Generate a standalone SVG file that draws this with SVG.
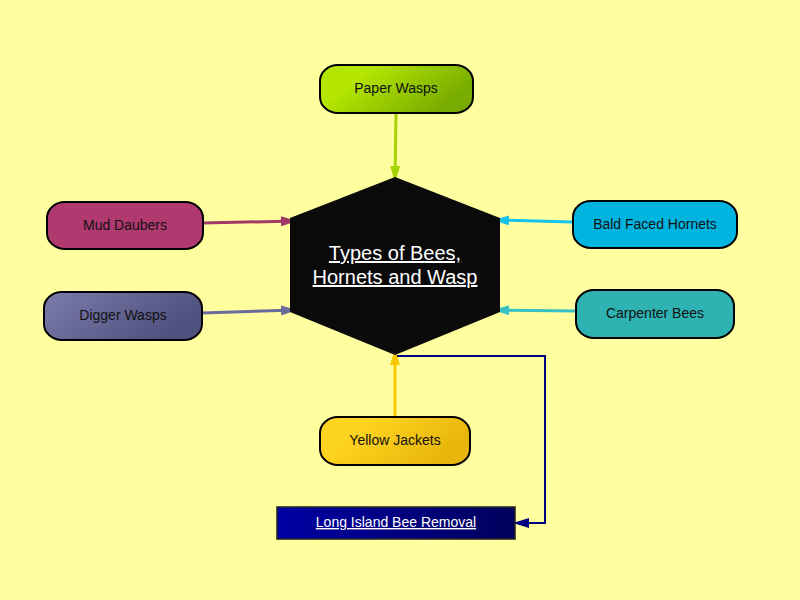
<svg xmlns="http://www.w3.org/2000/svg" width="800" height="600" viewBox="0 0 800 600">
<style>
.node{stroke:#000;stroke-width:2}
.lbl{font-family:"Liberation Sans",Arial,sans-serif;font-size:14px;fill:#111;text-anchor:middle}
.conn{fill:none;stroke-width:3}
</style>
<defs>
<linearGradient id="gPaper" x1="0" y1="0" x2="1" y2="0.4"><stop offset="0.3" stop-color="#b4e600"/><stop offset="1" stop-color="#78ac00"/></linearGradient>
<linearGradient id="gDigger" x1="0" y1="0" x2="1" y2="0.4"><stop offset="0" stop-color="#7c7cac"/><stop offset="1" stop-color="#50507e"/></linearGradient>
<linearGradient id="gYellow" x1="0" y1="0" x2="1" y2="0.4"><stop offset="0.3" stop-color="#fdd420"/><stop offset="1" stop-color="#e8b60a"/></linearGradient>
<linearGradient id="gLink" x1="0" y1="0" x2="1" y2="0"><stop offset="0" stop-color="#0000a4"/><stop offset="1" stop-color="#00005c"/></linearGradient>
<marker id="aPaper" markerWidth="16" markerHeight="10" refX="15" refY="5" orient="auto" markerUnits="userSpaceOnUse"><path d="M0,0L16,5L0,10z" fill="#a6d400"/></marker>
<marker id="aMud" markerWidth="16" markerHeight="10" refX="15" refY="5" orient="auto" markerUnits="userSpaceOnUse"><path d="M0,0L16,5L0,10z" fill="#a03868"/></marker>
<marker id="aDig" markerWidth="16" markerHeight="10" refX="15" refY="5" orient="auto" markerUnits="userSpaceOnUse"><path d="M0,0L16,5L0,10z" fill="#6a6a9c"/></marker>
<marker id="aBald" markerWidth="16" markerHeight="10" refX="15" refY="5" orient="auto" markerUnits="userSpaceOnUse"><path d="M0,0L16,5L0,10z" fill="#18c4ec"/></marker>
<marker id="aCarp" markerWidth="16" markerHeight="10" refX="15" refY="5" orient="auto" markerUnits="userSpaceOnUse"><path d="M0,0L16,5L0,10z" fill="#38c0c4"/></marker>
<marker id="aYel" markerWidth="16" markerHeight="10" refX="15" refY="5" orient="auto" markerUnits="userSpaceOnUse"><path d="M0,0L16,5L0,10z" fill="#f8c800"/></marker>
<marker id="aLink" markerWidth="16" markerHeight="10" refX="15" refY="5" orient="auto" markerUnits="userSpaceOnUse"><path d="M0,0L16,5L0,10z" fill="#000080"/></marker>
</defs>
<rect width="800" height="600" fill="#ffff9f"/>
<g id="connectors">
<path class="conn" d="M396,113 L395,181" stroke="#a6d400" marker-end="url(#aPaper)"/>
<path class="conn" d="M203,223 L296,221" stroke="#a03868" marker-end="url(#aMud)"/>
<path class="conn" d="M202,313 L296,310" stroke="#6a6a9c" marker-end="url(#aDig)"/>
<path class="conn" d="M573,222 L494,220" stroke="#18c4ec" marker-end="url(#aBald)"/>
<path class="conn" d="M576,311 L494,310" stroke="#38c0c4" marker-end="url(#aCarp)"/>
<path class="conn" d="M395,417 L395,350" stroke="#f8c800" marker-end="url(#aYel)"/>
<path d="M397,356 L545,356 L545,523 L514,523" fill="none" stroke="#000080" stroke-width="2" marker-end="url(#aLink)"/>
</g>
<g id="center">
<polygon points="395,177 500,218 500,312 395,355 290,312 290,218" fill="#0a0a0a"/>
<text x="395" y="260" font-family="Liberation Sans,Arial,sans-serif" font-size="20" fill="#fff" text-anchor="middle" text-decoration="underline">Types of Bees, </text>
<text x="395" y="284" font-family="Liberation Sans,Arial,sans-serif" font-size="20" fill="#fff" text-anchor="middle" text-decoration="underline">Hornets and Wasp</text>
</g>
<g id="paper-wasps">
<rect class="node" x="320" y="65" width="153" height="48" rx="18" ry="16" fill="url(#gPaper)"/>
<text class="lbl" x="396" y="93">Paper Wasps</text>
</g>
<g id="mud-daubers">
<rect class="node" x="47" y="202" width="156" height="47" rx="18" ry="16" fill="#b03a70"/>
<text class="lbl" x="125" y="230">Mud Daubers</text>
</g>
<g id="digger-wasps">
<rect class="node" x="44" y="292" width="158" height="48" rx="18" ry="16" fill="url(#gDigger)"/>
<text class="lbl" x="123" y="320">Digger Wasps</text>
</g>
<g id="bald-faced-hornets">
<rect class="node" x="573" y="201" width="164" height="47" rx="18" ry="16" fill="#00b4e0"/>
<text class="lbl" x="655" y="229">Bald Faced Hornets</text>
</g>
<g id="carpenter-bees">
<rect class="node" x="576" y="290" width="158" height="48" rx="18" ry="16" fill="#2fb2b2"/>
<text class="lbl" x="655" y="318">Carpenter Bees</text>
</g>
<g id="yellow-jackets">
<rect class="node" x="320" y="417" width="150" height="48" rx="18" ry="16" fill="url(#gYellow)"/>
<text class="lbl" x="395" y="445">Yellow Jackets</text>
</g>
<g id="long-island-bee-removal">
<rect x="277" y="507" width="238" height="32" fill="url(#gLink)" stroke="#222" stroke-width="1.5"/>
<text x="396" y="527" font-family="Liberation Sans,Arial,sans-serif" font-size="14" fill="#fff" text-anchor="middle" text-decoration="underline">Long Island Bee Removal</text>
</g>
</svg>
